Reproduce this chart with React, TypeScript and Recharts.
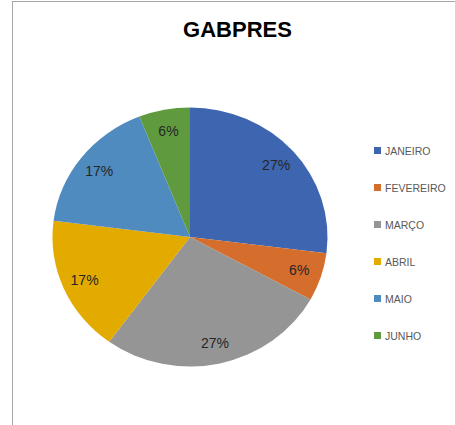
import React from "react";
import { PieChart, Pie, Cell, Legend } from "recharts";

const months = ["JANEIRO", "FEVEREIRO", "MARÇO", "ABRIL", "MAIO", "JUNHO"];
const values = [27, 6, 27, 17, 17, 6];
const colors = ["#3E66B0", "#D56D2C", "#959595", "#E3AA00", "#4F8BBF", "#5F9B3E"];

const data = months.map((m, i) => ({ name: m, value: values[i] }));

const CX = 190;
const CY = 237;
const R = 129.5;
const SX = 1.062;
const RAD = Math.PI / 180;

const renderLabel = (props: any) => {
  const { midAngle, percent } = props;
  const r = R * 0.835;
  const x = CX + r * Math.cos(midAngle * RAD) * SX;
  const y = CY - r * Math.sin(midAngle * RAD);
  return (
    <text
      x={x}
      y={y}
      textAnchor="middle"
      dominantBaseline="central"
      fill="#262626"
      fontSize={14}
      fontFamily="'Liberation Sans', Arial, sans-serif"
    >
      {Math.round(percent * 100) + "%"}
    </text>
  );
};

const LegendContent = () => (
  <div style={{ fontFamily: "'Liberation Sans', Arial, sans-serif", fontSize: 10.5, color: "#595959" }}>
    {months.map((m, i) => (
      <div key={m} style={{ height: 37, display: "flex", alignItems: "center" }}>
        <span style={{ display: "inline-block", width: 7, height: 7, background: colors[i], marginRight: 4 }} />
        <span>{m}</span>
      </div>
    ))}
  </div>
);

export default function App() {
  return (
    <div style={{ position: "absolute", left: 0, top: 0, width: 455, height: 425, background: "#fff", overflow: "hidden" }}>
      <style>{`.recharts-sector { transform: scaleX(${SX}); transform-origin: ${CX}px ${CY}px; }`}</style>
      <div
        style={{
          position: "absolute",
          left: 12,
          top: 1,
          width: 450,
          height: 430,
          borderTop: "1px solid #A6A6A6",
          borderLeft: "1px solid #A6A6A6",
        }}
      />
      <div
        style={{
          position: "absolute",
          left: 0,
          top: 14,
          width: 475,
          textAlign: "center",
          fontFamily: "'Liberation Sans', Arial, sans-serif",
          fontWeight: "bold",
          fontSize: 22,
          color: "#000",
          lineHeight: "32px",
        }}
      >
        GABPRES
      </div>
      <div style={{ position: "absolute", left: 0, top: 0 }}>
        <PieChart width={455} height={425} margin={{ top: 0, right: 0, bottom: 0, left: 0 }}>
          <Pie
            data={data}
            dataKey="value"
            nameKey="name"
            cx={CX}
            cy={CY}
            outerRadius={R}
            startAngle={90}
            endAngle={-270}
            stroke="none"
            label={renderLabel}
            labelLine={false}
            isAnimationActive={false}
          >
            {data.map((d, i) => (
              <Cell key={d.name} fill={colors[i]} />
            ))}
          </Pie>
          <Legend
            content={<LegendContent />}
            layout="vertical"
            wrapperStyle={{ position: "absolute", left: 374, top: 132, width: 80 }}
          />
        </PieChart>
      </div>
    </div>
  );
}
